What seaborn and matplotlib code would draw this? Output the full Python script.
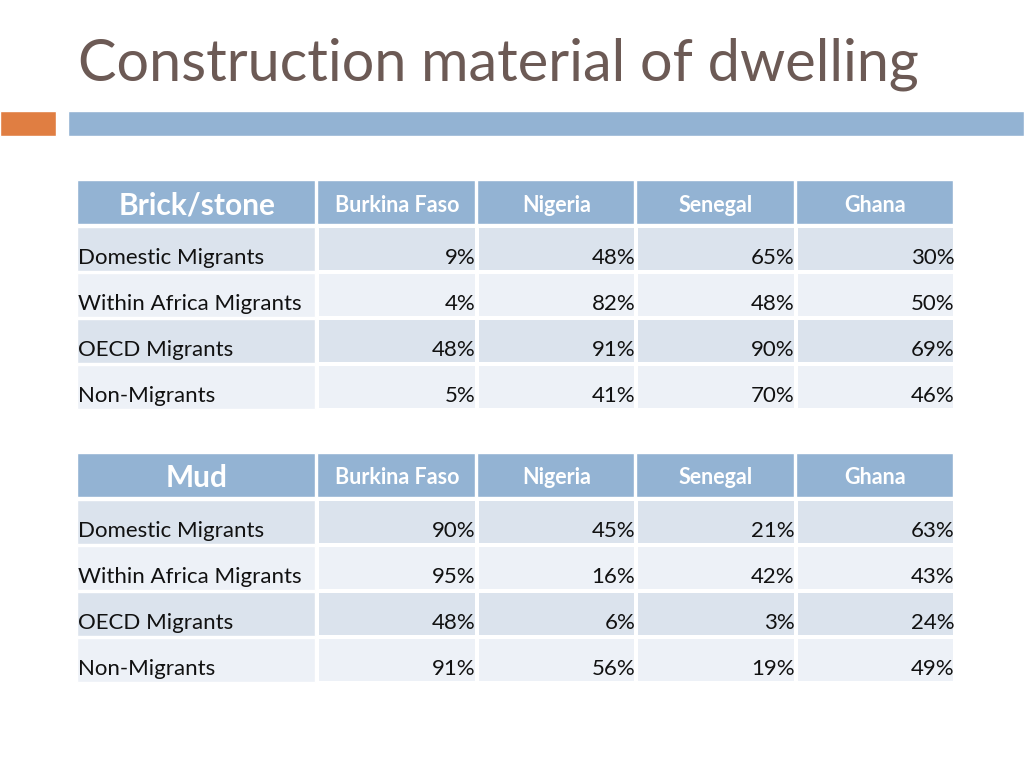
import matplotlib
matplotlib.use('Agg')
import numpy as np
import matplotlib.pyplot as plt
import seaborn as sns
from matplotlib.colors import ListedColormap

title = 'Construction material of dwelling'
countries = ['Burkina Faso', 'Nigeria', 'Senegal', 'Ghana']
groups = ['Domestic Migrants', 'Within Africa Migrants', 'OECD Migrants', 'Non-Migrants']
brick_stone = [[9, 48, 65, 30],
               [4, 82, 48, 50],
               [48, 91, 90, 69],
               [5, 41, 70, 46]]
mud = [[90, 45, 21, 63],
       [95, 16, 42, 43],
       [48, 6, 3, 24],
       [91, 56, 19, 49]]
tables = [('Brick/stone', brick_stone, 180), ('Mud', mud, 453)]

HEAD = '#93b3d3'
DARK = '#dbe3ed'
LIGHT = '#edf1f7'
TITLE_C = '#6c5a55'
W, H = 1024, 768

sns.set_theme(style='white')
plt.rcParams['font.family'] = ['Lato', 'DejaVu Sans']

fig = plt.figure(figsize=(W / 100, H / 100), dpi=100)
bg = fig.add_axes([0, 0, 1, 1])
bg.set_xlim(0, W)
bg.set_ylim(H, 0)
bg.axis('off')

bg.text(78, 64, title, fontsize=41.5, color=TITLE_C, va='center', ha='left')
bg.barh(123.5, 56, left=0, height=25, color='#e07e42')
bg.barh(123.5, W - 68, left=68, height=25, color=HEAD)

label_x0, label_x1 = 77, 317
col_edges = [317, 477, 636, 796, 955]
row_h = 46

for name, values, top in tables:
    # header row
    lefts = [label_x0] + col_edges[:-1]
    rights = col_edges
    for l, r in zip(lefts, rights):
        bg.barh(top + 22, r - l - 2, left=l, height=44, color=HEAD)
    bg.text((label_x0 + label_x1) / 2, top + 25, name, fontsize=21.5, fontweight='bold',
            color='white', ha='center', va='center')
    for i, c in enumerate(countries):
        bg.text((col_edges[i] + col_edges[i + 1]) / 2, top + 25, c, fontsize=15.5,
                fontweight='bold', color='white', ha='center', va='center')

    body_top = top + 46
    # label column
    for j, g in enumerate(groups):
        yc = body_top + j * row_h + row_h / 2
        bg.barh(yc, label_x1 - label_x0 - 2, left=label_x0, height=row_h - 2,
                color=DARK if j % 2 == 0 else LIGHT)
        bg.text(label_x0 + 1, yc + 9, g, fontsize=16, color='#111111',
                ha='left', va='center')

    # value block as a heatmap
    parity = np.array([[j % 2] * len(countries) for j in range(len(groups))])
    annot = np.array([[f'{v}%' for v in row] for row in values])
    ax = fig.add_axes([col_edges[0] / W, 1 - (body_top + 4 * row_h) / H,
                       (col_edges[-1] - col_edges[0]) / W, 4 * row_h / H])
    sns.heatmap(parity, ax=ax, cmap=ListedColormap([DARK, LIGHT]), vmin=0, vmax=1,
                cbar=False, annot=annot, fmt='', linewidths=1.5, linecolor='white',
                annot_kws={'fontsize': 16, 'color': '#111111'},
                xticklabels=False, yticklabels=False)
    for t in ax.texts:
        x, y = t.get_position()
        t.set_position((x + 0.495, y + 0.2))
        t.set_ha('right')

fig.savefig('out.png', dpi=100)
